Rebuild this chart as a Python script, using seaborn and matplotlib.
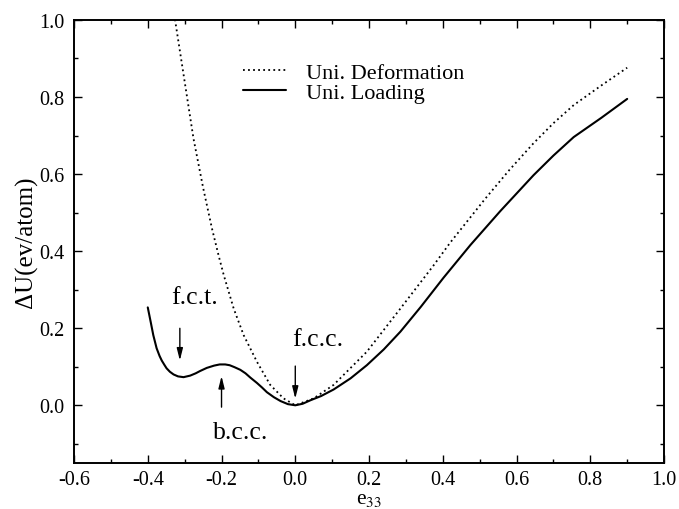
import numpy as np
import pandas as pd
import matplotlib
matplotlib.use("Agg")
import matplotlib.pyplot as plt
import seaborn as sns

# ---- data ----
deform_x = [-0.333, -0.326, -0.30, -0.276, -0.25, -0.226, -0.208, -0.194, -0.167,
            -0.14, -0.104, -0.068, -0.032, 0.0, 0.05, 0.104, 0.194, 0.285, 0.375,
            0.42, 0.515, 0.58, 0.646, 0.70, 0.755, 0.83, 0.90]
deform_y = [1.04, 1.0, 0.84, 0.692, 0.565, 0.459, 0.389, 0.338, 0.251,
            0.182, 0.113, 0.053, 0.018, 0.0, 0.018, 0.053, 0.139, 0.251, 0.363,
            0.422, 0.536, 0.61, 0.68, 0.732, 0.779, 0.83, 0.876]

load_x = [-0.40, -0.392, -0.385, -0.376, -0.368, -0.362, -0.355, -0.349, -0.34,
          -0.33, -0.318, -0.303, -0.285, -0.27, -0.258, -0.24, -0.22, -0.205, -0.19,
          -0.178, -0.165, -0.149, -0.135, -0.122, -0.104, -0.09, -0.077, -0.058,
          -0.04, -0.02, 0.0, 0.02, 0.041, 0.07, 0.104, 0.15, 0.194, 0.24, 0.285,
          0.34, 0.402, 0.475, 0.556, 0.646, 0.70, 0.755, 0.83, 0.90]
load_y = [0.254, 0.216, 0.182, 0.148, 0.128, 0.116, 0.105, 0.096, 0.087,
          0.080, 0.075, 0.073, 0.077, 0.083, 0.089, 0.097, 0.103, 0.106, 0.106,
          0.104, 0.099, 0.092, 0.083, 0.072, 0.058, 0.046, 0.034, 0.021,
          0.011, 0.003, 0.0, 0.004, 0.013, 0.024, 0.041, 0.07, 0.104, 0.145, 0.191,
          0.255, 0.331, 0.416, 0.504, 0.597, 0.648, 0.696, 0.746, 0.795]

series_names = ["Uni. Deformation", "Uni. Loading"]
annot_labels = ["f.c.t.", "b.c.c.", "f.c.c."]
annot_arrow_x = [-0.313, -0.20, 0.0]
annot_arrow_from = [0.207, -0.012, 0.109]
annot_arrow_to = [0.109, 0.083, 0.010]
annot_text_xy = [(-0.274, 0.28), (-0.149, -0.07), (0.06, 0.173)]

x_ticks = [-0.6, -0.4, -0.2, 0.0, 0.2, 0.4, 0.6, 0.8, 1.0]
y_ticks = [0.0, 0.2, 0.4, 0.6, 0.8, 1.0]

# ---- style ----
sns.set_theme(style="ticks")
plt.rcParams["font.family"] = ["Liberation Serif", "DejaVu Serif"]
plt.rcParams["mathtext.fontset"] = "stix"
plt.rcParams["text.color"] = "black"
plt.rcParams["axes.labelcolor"] = "black"
plt.rcParams["xtick.color"] = "black"
plt.rcParams["ytick.color"] = "black"

fig = plt.figure(figsize=(6.79, 5.10), dpi=100)
ax = fig.add_axes([0.109, 0.090, 0.869, 0.869])

df_d = pd.DataFrame({"x": deform_x, "y": deform_y})
df_l = pd.DataFrame({"x": load_x, "y": load_y})

sns.lineplot(data=df_d, x="x", y="y", ax=ax, color="black", lw=1.3,
             linestyle=(0, (1, 1.8)), sort=False, estimator=None,
             label=series_names[0])
sns.lineplot(data=df_l, x="x", y="y", ax=ax, color="black", lw=1.5,
             sort=False, estimator=None, label=series_names[1])

ax.set_xlim(-0.6, 1.0)
ax.set_ylim(-0.15, 1.0)
ax.set_xticks(x_ticks)
ax.set_xticklabels([f"{v:.1f}" for v in x_ticks])
ax.set_yticks(y_ticks)
ax.set_yticklabels([f"{v:.1f}" for v in y_ticks])
ax.set_xticks(np.arange(-0.6, 1.001, 0.1), minor=True)
ax.set_yticks(np.arange(-0.1, 1.001, 0.1), minor=True)
ax.tick_params(which="both", direction="in", top=True, right=True,
               colors="black", labelcolor="black", width=1.0)
ax.tick_params(which="major", length=6, labelsize=14.5, pad=7)
ax.tick_params(axis="x", which="major", pad=5)
ax.tick_params(which="minor", length=3)
for s in ax.spines.values():
    s.set_linewidth(1.4)
    s.set_color("black")

ax.set_xlabel(r"e$_{33}$", fontsize=15.5, labelpad=0, color="black")
ax.set_ylabel("ΔU(ev/atom)", fontsize=18, labelpad=1, color="black")

for lab, ax_x, y0, y1, (tx, ty) in zip(annot_labels, annot_arrow_x, annot_arrow_from,
                                       annot_arrow_to, annot_text_xy):
    ax.annotate("", xy=(ax_x, y1), xytext=(ax_x, y0),
                arrowprops=dict(arrowstyle="-|>,head_width=0.15,head_length=0.6",
                                color="black", lw=1.0))
    ax.text(tx, ty, lab, fontsize=18.5, ha="center", va="center", color="black")

leg = ax.legend(loc="upper left", bbox_to_anchor=(0.253, 0.95), frameon=False,
                fontsize=16, handlelength=1.9, handletextpad=0.9,
                labelspacing=0.0)
for t in leg.get_texts():
    t.set_color("black")

fig.savefig("out.png", dpi=100)
